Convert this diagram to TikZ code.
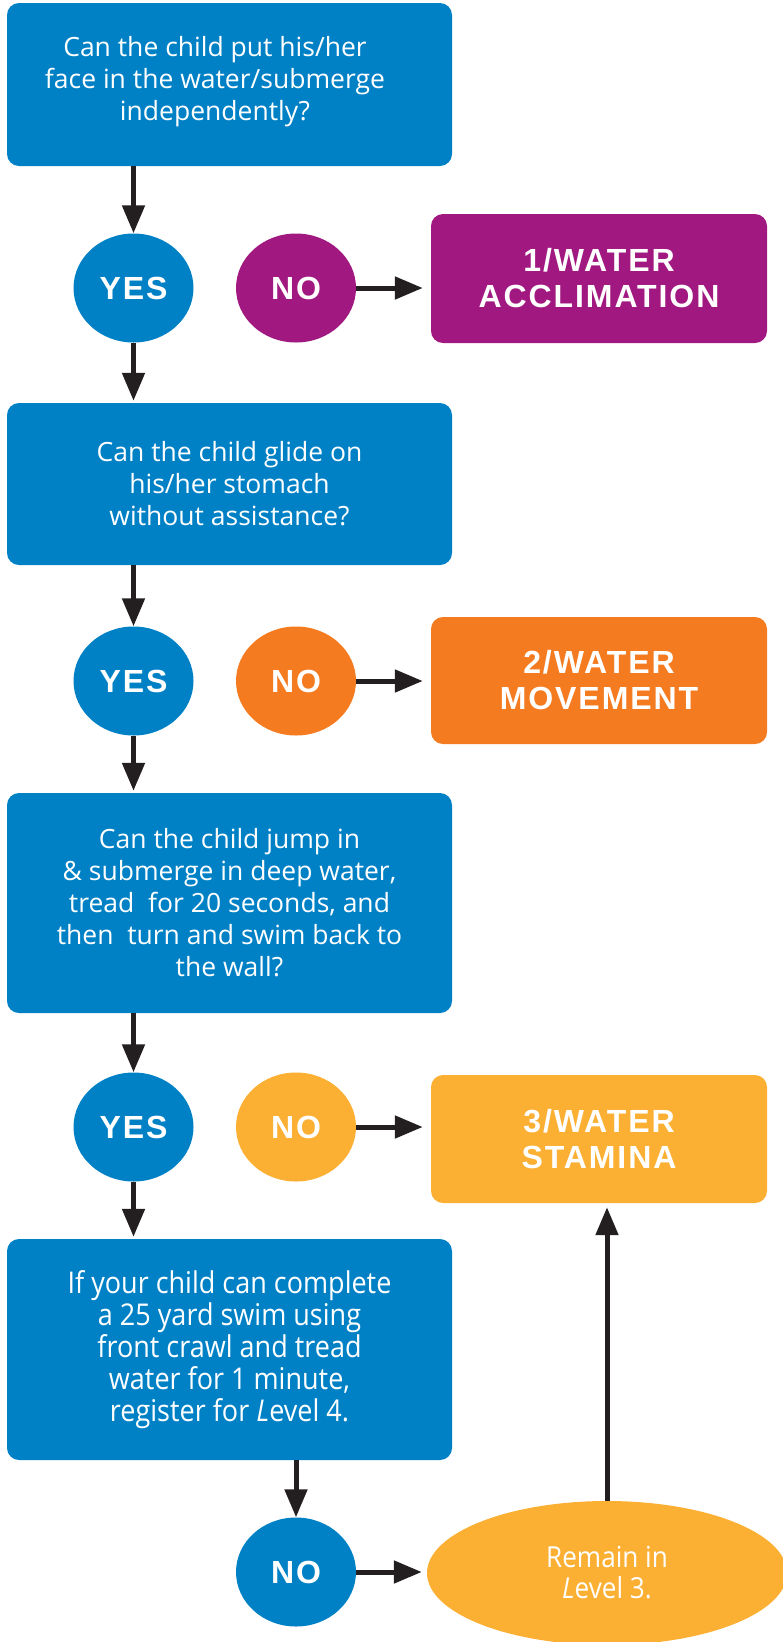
\documentclass[tikz,border=0pt]{standalone}
\usepackage{fontspec}
\setmainfont{Open Sans}
\newfontfamily\hdfont[LetterSpace=6]{Liberation Sans}
\newfontfamily\cfont[FakeStretch=0.9]{Open Sans}
\usetikzlibrary{arrows.meta,shapes.geometric}
\definecolor{cblue}{RGB}{0,129,198}
\definecolor{cpurple}{RGB}{161,25,128}
\definecolor{corange}{RGB}{244,123,32}
\definecolor{cyellow}{RGB}{251,176,52}
\definecolor{carrow}{RGB}{35,31,32}
\begin{document}
\begin{tikzpicture}[x=1pt,y=-1pt,
  qbox/.style={fill=cblue, rounded corners=12pt, inner sep=0pt, text=white, align=center,
    font=\fontsize{26.5pt}{32pt}\selectfont},
  qtext/.style={inner sep=0pt, text=white, align=center, font=\fontsize{26.5pt}{32pt}\selectfont},
  lvbox/.style={rounded corners=12pt, inner sep=0pt, text=white, align=center,
    minimum width=336pt, font=\hdfont\bfseries\fontsize{32pt}{36pt}\selectfont},
  ans/.style={ellipse, minimum width=120pt, minimum height=109pt, inner sep=0pt, text=white,
    font=\hdfont\bfseries\fontsize{32pt}{36pt}\selectfont},
  arr/.style={draw=carrow, line width=5pt, -{Triangle[length=28pt,width=22pt]}},
]
\useasboundingbox (0,0) rectangle (783,1642);

% question boxes
\node[qbox, minimum width=445pt, minimum height=163pt] (q1) at (229.5,84.5) {};
\node[qtext] (q1t) at (215,82) {Can the child put his/her\\face in the water/submerge\\independently?};
\node[qbox, minimum width=445pt, minimum height=162pt] (q2) at (229.5,484)
  {Can the child glide on\\his/her stomach\\without assistance?};
\node[qbox, minimum width=445pt, minimum height=220pt] (q3) at (229.5,903)
  {Can the child jump in\\\& submerge in deep water,\\tread\ \ for 20 seconds, and\\then\ \ turn and swim back to\\the wall?};
\node[qbox, minimum width=445pt, minimum height=221pt,
  font=\cfont\fontsize{30pt}{32pt}\selectfont] (q4) at (229.5,1349.5)
  {If your child can complete\\a 25 yard swim using\\front crawl and tread\\water for 1 minute,\\register for {\itshape L}evel 4.};

% answers
\node[ans, fill=cblue] (y1) at (133.5,288) {YES};
\node[ans, fill=cpurple] (n1) at (296,288) {NO};
\node[ans, fill=cblue] (y2) at (133.5,681) {YES};
\node[ans, fill=corange] (n2) at (296,681) {NO};
\node[ans, fill=cblue] (y3) at (133.5,1127) {YES};
\node[ans, fill=cyellow] (n3) at (296,1127) {NO};
\node[ans, fill=cblue] (n4) at (296,1572) {NO};

% level boxes
\node[lvbox, fill=cpurple, minimum height=129pt] (l1) at (599,278.5) {1/WATER\\ACCLIMATION};
\node[lvbox, fill=corange, minimum height=127pt] (l2) at (599,680.5) {2/WATER\\MOVEMENT};
\node[lvbox, fill=cyellow, minimum height=128pt] (l3) at (599,1139) {3/WATER\\STAMINA};

% remain ellipse
\node[ellipse, fill=cyellow, minimum width=360pt, minimum height=144pt, inner sep=0pt,
  text=white, align=center, font=\cfont\fontsize{29pt}{31pt}\selectfont] (r) at (607,1573)
  {Remain in\\{\itshape L}evel 3.};

% connectors
\draw[arr] (y1.north |- q1.south) -- (y1.north);
\draw[arr, shorten >=2pt] (y1.south) -- (y1.south |- q2.north);
\draw[arr, shorten >=8pt] (n1.east) -- (n1.east -| l1.west);
\draw[arr] (y2.north |- q2.south) -- (y2.north);
\draw[arr, shorten >=2pt] (y2.south) -- (y2.south |- q3.north);
\draw[arr, shorten >=8pt] (n2.east) -- (n2.east -| l2.west);
\draw[arr] (y3.north |- q3.south) -- (y3.north);
\draw[arr, shorten >=2pt] (y3.south) -- (y3.south |- q4.north);
\draw[arr, shorten >=8pt] (n3.east) -- (n3.east -| l3.west);
\draw[arr] (n4.north |- q4.south) -- (n4.north);
\draw[arr, shorten >=5pt] (n4.east) -- (n4.east -| r.west);
\draw[arr, shorten >=4pt] (r.north) -- (r.north |- l3.south);
\end{tikzpicture}
\end{document}
